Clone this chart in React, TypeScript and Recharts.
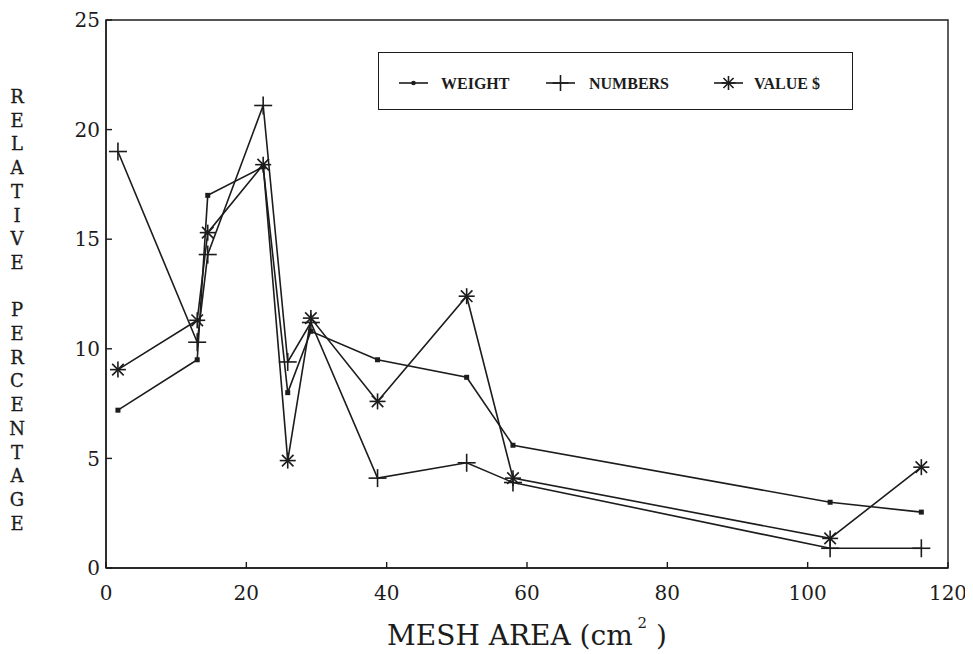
import React from 'react';
import { LineChart, Line, XAxis, YAxis, Legend, ReferenceArea } from 'recharts';

// ---- data ----
const meshArea = [1.7, 13.0, 14.5, 22.4, 25.9, 29.2, 38.7, 51.4, 58.0, 103.2, 116.2];
const weightPct = [7.2, 9.5, 17.0, 18.3, 8.0, 10.8, 9.5, 8.7, 5.6, 3.0, 2.55];
const numbersPct = [19.0, 10.3, 14.3, 21.1, 9.4, 11.2, 4.1, 4.8, 3.9, 0.9, 0.9];
const valuePct = [9.05, 11.3, 15.3, 18.4, 4.9, 11.4, 7.6, 12.4, 4.1, 1.35, 4.6];

const xTicks = [0, 20, 40, 60, 80, 100, 120];
const yTicks = [0, 5, 10, 15, 20, 25];
const seriesNames = ['WEIGHT', 'NUMBERS', 'VALUE $'];
const yTitle = 'RELATIVE PERCENTAGE';
const xTitle = 'MESH AREA (cm';

const data = meshArea.map((x, i) => ({
  x,
  weight: weightPct[i],
  numbers: numbersPct[i],
  value: valuePct[i],
}));

const INK = '#1c1c1c';
const SERIF = '"DejaVu Serif", "Liberation Serif", serif';

const DotMark = ({ cx, cy }: any) => (
  <rect x={cx - 2.5} y={cy - 2.5} width={5} height={5} fill={INK} />
);
const PlusMark = ({ cx, cy, r = 9 }: any) => (
  <g stroke={INK} strokeWidth={1.6}>
    <line x1={cx - r} y1={cy} x2={cx + r} y2={cy} />
    <line x1={cx} y1={cy - r} x2={cx} y2={cy + r} />
  </g>
);
const StarMark = ({ cx, cy, r = 8 }: any) => {
  const d = r * 0.72;
  return (
    <g stroke={INK} strokeWidth={1.6}>
      <line x1={cx - r} y1={cy} x2={cx + r} y2={cy} />
      <line x1={cx} y1={cy - r} x2={cx} y2={cy + r} />
      <line x1={cx - d} y1={cy - d} x2={cx + d} y2={cy + d} />
      <line x1={cx - d} y1={cy + d} x2={cx + d} y2={cy - d} />
    </g>
  );
};

const XTick = ({ x, y, payload }: any) => (
  <g>
    <line x1={x} y1={y} x2={x} y2={y - 6} stroke={INK} strokeWidth={1.4} />
    <text x={x} y={y + 32} textAnchor="middle" fontFamily={SERIF} fontSize={20} fill={INK}>
      {payload.value}
    </text>
  </g>
);

const YTick = ({ x, y, payload }: any) => (
  <g>
    <line x1={x} y1={y} x2={x + 6} y2={y} stroke={INK} strokeWidth={1.4} />
    <text x={x - 6} y={y} dy="0.36em" textAnchor="end" fontFamily={SERIF} fontSize={20} fill={INK}>
      {payload.value}
    </text>
  </g>
);

const YTitle = ({ viewBox }: any) => {
  const letters = yTitle.split('');
  const cx = viewBox.x + 9;
  const y0 = viewBox.y + 83;
  return (
    <text fontFamily={SERIF} fontSize={18} fill={INK} textAnchor="middle" stroke={INK} strokeWidth={0.3}>
      {letters.map((ch, i) => (
        <tspan key={i} x={cx} y={y0 + i * 23.7}>
          {ch === ' ' ? '\u00a0' : ch}
        </tspan>
      ))}
    </text>
  );
};

const XTitle = ({ viewBox }: any) => {
  const cx = viewBox.x + viewBox.width / 2;
  return (
    <text x={cx} y={viewBox.y + 77} textAnchor="middle" fontFamily={SERIF} fontSize={28} fill={INK}>
      {xTitle}
      <tspan dy={-17} fontSize={15}>{'\u00a02'}</tspan>
      <tspan dy={17}>{'\u00a0)'}</tspan>
    </text>
  );
};

const markers = [DotMark, PlusMark, StarMark];

const LegendBox = () => {
  const itemX = [20, 167, 335];
  const textX = [64, 212, 377];
  const cy = 31;
  return (
    <div
      style={{
        width: 475,
        height: 58,
        border: `1.5px solid ${INK}`,
        boxSizing: 'border-box',
        background: '#fff',
      }}
    >
      <svg width={472} height={55} style={{ display: 'block' }}>
        {seriesNames.map((name, i) => {
          const M = markers[i];
          const x0 = itemX[i];
          return (
            <g key={name}>
              <line x1={x0} y1={cy - 1} x2={x0 + 29} y2={cy - 1} stroke={INK} strokeWidth={1.6} />
              {i === 0 ? (
                <circle cx={x0 + 14.5} cy={cy - 1} r={2.3} fill={INK} />
              ) : (
                <M cx={x0 + 14.5} cy={cy - 1} r={i === 1 ? 8 : 7} />
              )}
              <text
                x={textX[i] - 2}
                y={cy + 5}
                fontFamily='"Liberation Serif", serif'
                fontWeight="bold"
                fontSize={16}
                fill={INK}
              >
                {name}
              </text>
            </g>
          );
        })}
      </svg>
    </div>
  );
};

export default function App() {
  return (
    <div style={{ background: '#fff' }}>
      <LineChart
        width={965}
        height={646}
        data={data}
        margin={{ top: 12, right: 25, bottom: 56, left: 0 }}
      >
        <XAxis
          type="number"
          dataKey="x"
          domain={[0, 120]}
          ticks={xTicks}
          tickLine={false}
          tickSize={0}
          tickMargin={0}
          tick={<XTick />}
          axisLine={{ stroke: INK, strokeWidth: 1.4 }}
          height={30}
          label={{ content: <XTitle /> }}
        />
        <YAxis
          type="number"
          domain={[0, 25]}
          ticks={yTicks}
          tickLine={false}
          tickSize={0}
          tickMargin={0}
          tick={<YTick />}
          axisLine={{ stroke: INK, strokeWidth: 1.4 }}
          width={98}
          label={{ content: <YTitle /> }}
        />
        <ReferenceArea
          x1={0}
          x2={120}
          y1={0}
          y2={25}
          fill="none"
          stroke={INK}
          strokeWidth={1.4}
          fillOpacity={0}
        />
        <Legend
          layout="horizontal"
          verticalAlign="middle"
          align="center"
          content={<LegendBox />}
          wrapperStyle={{ position: 'absolute', left: 370, top: 44, width: 475, height: 58 }}
        />
        <Line
          type="linear"
          dataKey="weight"
          name="WEIGHT"
          stroke={INK}
          strokeWidth={1.6}
          isAnimationActive={false}
          dot={(p: any) => <DotMark key={`w${p.index}`} cx={p.cx} cy={p.cy} />}
          activeDot={false}
        />
        <Line
          type="linear"
          dataKey="numbers"
          name="NUMBERS"
          stroke={INK}
          strokeWidth={1.6}
          isAnimationActive={false}
          dot={(p: any) => <PlusMark key={`n${p.index}`} cx={p.cx} cy={p.cy} />}
          activeDot={false}
        />
        <Line
          type="linear"
          dataKey="value"
          name="VALUE $"
          stroke={INK}
          strokeWidth={1.6}
          isAnimationActive={false}
          dot={(p: any) => <StarMark key={`v${p.index}`} cx={p.cx} cy={p.cy} />}
          activeDot={false}
        />
      </LineChart>
    </div>
  );
}
